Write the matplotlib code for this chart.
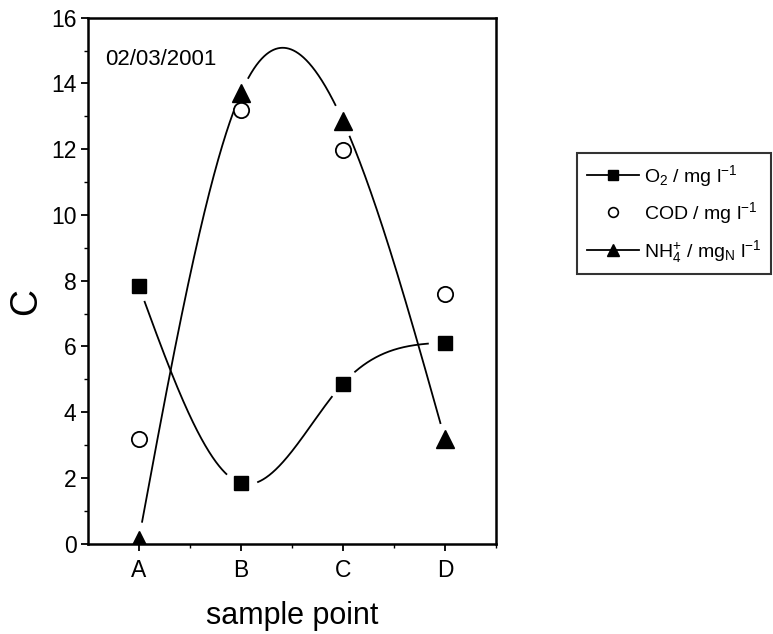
import numpy as np
import matplotlib
matplotlib.use("Agg")
import matplotlib.pyplot as plt
from matplotlib.ticker import MultipleLocator, FixedLocator

plt.rcParams['font.family'] = ['Liberation Sans', 'DejaVu Sans']
plt.rcParams['mathtext.fontset'] = 'custom'
plt.rcParams['mathtext.rm'] = 'Liberation Sans'
plt.rcParams['mathtext.it'] = 'Liberation Sans:italic'

categories = ['A', 'B', 'C', 'D']
o2 = [7.85, 1.84, 4.87, 6.12]
cod = [3.18, 13.19, 11.97, 7.61]
nh4 = [0.12, 13.7, 12.86, 3.17]
date_label = '02/03/2001'
legend_labels = [r'O$_2$ / mg l$^{-1}$', r'COD / mg l$^{-1}$',
                 r'NH$_4^{+}$ / mg$_\mathregular{N}$ l$^{-1}$']


def natural_spline(x, y, xs):
    x = np.asarray(x, float); y = np.asarray(y, float)
    n = len(x)
    h = np.diff(x)
    A = np.zeros((n, n)); b = np.zeros(n)
    A[0, 0] = 1; A[-1, -1] = 1
    for i in range(1, n - 1):
        A[i, i - 1] = h[i - 1]
        A[i, i] = 2 * (h[i - 1] + h[i])
        A[i, i + 1] = h[i]
        b[i] = 6 * ((y[i + 1] - y[i]) / h[i] - (y[i] - y[i - 1]) / h[i - 1])
    M = np.linalg.solve(A, b)
    out = np.empty_like(xs)
    for k, xv in enumerate(xs):
        i = min(max(np.searchsorted(x, xv) - 1, 0), n - 2)
        t = (xv - x[i]) / h[i]
        out[k] = ((1 - t) * y[i] + t * y[i + 1]
                  + h[i] ** 2 / 6 * (((1 - t) ** 3 - (1 - t)) * M[i] + (t ** 3 - t) * M[i + 1]))
    return out


fig = plt.figure(figsize=(7.73, 6.34), dpi=100)
ax = fig.add_axes([0.1135, 0.1424, 0.5282, 0.8297])
ax.set_xlim(0.5, 4.5)
ax.set_ylim(0, 16)

xpos = np.arange(1, len(categories) + 1)


def gapped_curve(y, gap_px=17):
    xs = np.linspace(xpos[0], xpos[-1], 1200)
    ys = natural_spline(xpos, y, xs)
    pts = ax.transData.transform(np.column_stack([xs, ys]))
    mp = ax.transData.transform(np.column_stack([xpos, y]))
    d = np.min(np.hypot(pts[:, None, 0] - mp[None, :, 0], pts[:, None, 1] - mp[None, :, 1]), axis=1)
    ys = ys.copy()
    ys[d < gap_px] = np.nan
    return xs, ys


lw = 1.3
xs, ys = gapped_curve(o2)
ax.plot(xs, ys, color='black', lw=lw)
xs, ys = gapped_curve(nh4)
ax.plot(xs, ys, color='black', lw=lw)

ax.plot(xpos, cod, linestyle='none', marker='o', markersize=11, markerfacecolor='white',
        markeredgecolor='black', markeredgewidth=1.3)
ax.plot(xpos, o2, linestyle='none', marker='s', markersize=10.5, color='black')
ax.plot(xpos, nh4, linestyle='none', marker='^', markersize=13, color='black')

# legend handles
h1, = ax.plot([], [], color='black', lw=lw, marker='s', markersize=7)
h2, = ax.plot([], [], linestyle='none', marker='o', markersize=7, markerfacecolor='white',
              markeredgecolor='black', markeredgewidth=1.2)
h3, = ax.plot([], [], color='black', lw=lw, marker='^', markersize=9)
leg = fig.legend([h1, h2, h3], legend_labels,
                 loc='upper left', bbox_to_anchor=(577 / 773, 1 - 153 / 634),
                 frameon=True, fancybox=False, fontsize=14, handlelength=2.7,
                 handletextpad=0.25, borderpad=0.5, labelspacing=0.6, borderaxespad=0)
leg.get_frame().set_edgecolor('black')
leg.get_frame().set_linewidth(1.5)

ax.text(0.042, 0.92, date_label, transform=ax.transAxes, fontsize=16, va='center', ha='left')

ax.set_xticks(xpos)
ax.set_xticklabels(categories)
ax.xaxis.set_minor_locator(FixedLocator([1.5, 2.5, 3.5, 4.5]))
ax.yaxis.set_major_locator(MultipleLocator(2))
ax.yaxis.set_minor_locator(MultipleLocator(1))
ax.tick_params(axis='both', which='major', direction='out', length=5, width=1.3, labelsize=16.5, pad=3)
ax.tick_params(axis='x', which='major', pad=6)
ax.tick_params(axis='both', which='minor', direction='out', length=3, width=1.0)
for s in ax.spines.values():
    s.set_linewidth(1.8)

ax.set_xlabel('sample point', fontsize=22)
ax.xaxis.set_label_coords(0.5, -0.108)
ax.set_ylabel('C', fontsize=27)
ax.yaxis.set_label_coords(-0.108, 0.46)

fig.savefig('out.png', dpi=100)
